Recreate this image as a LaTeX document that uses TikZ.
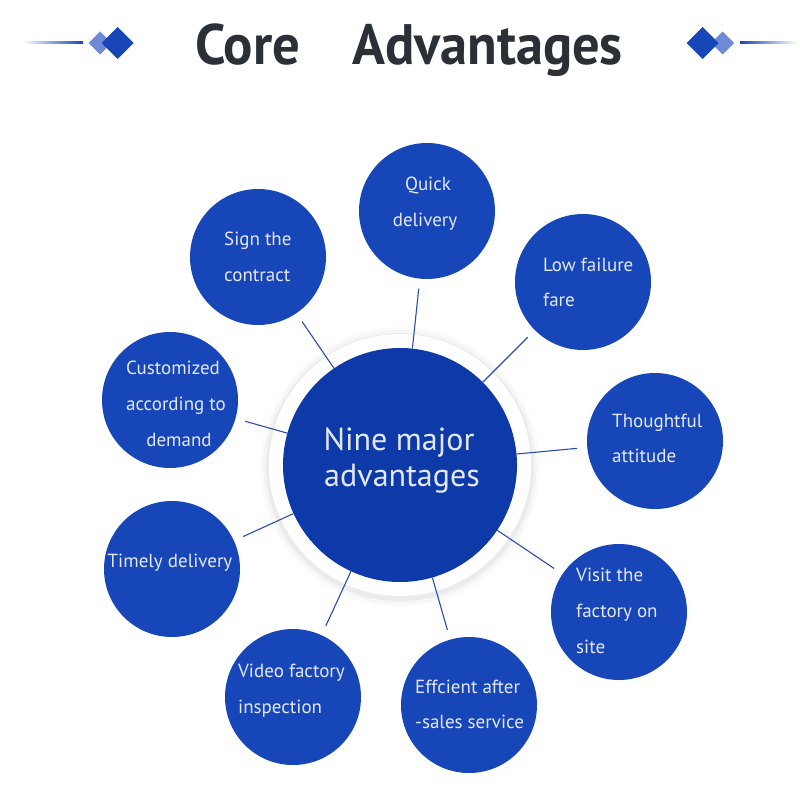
\documentclass[tikz,border=0pt]{standalone}
\usepackage{fontspec}
\setmainfont{PT Sans}
\begin{document}
\begin{tikzpicture}[x=1pt,y=-1pt]
\definecolor{coreblue}{HTML}{0D3AA8}
\definecolor{smallblue}{HTML}{1746B8}
\definecolor{linkblue}{HTML}{2A4DAE}
\definecolor{lightdia}{HTML}{6E8AD6}
\definecolor{textlight}{HTML}{E3E8F6}
\definecolor{titlegray}{HTML}{2B2F36}
\tikzset{
  adv/.style={circle, fill=smallblue, minimum size=136pt, inner sep=0pt},
  advtext/.style={text=textlight, font=\fontsize{19}{23}\selectfont, inner sep=0pt},
  coretxt/.style={text=textlight, font=\fontsize{32}{36}\selectfont, inner sep=0pt, anchor=base},
  link/.style={draw=linkblue, line width=1.1pt, shorten <=10pt},
  titletxt/.style={font=\fontsize{57}{60}\selectfont\bfseries, inner sep=0pt, anchor=base west},
}
\useasboundingbox[fill=white] (0,0) rectangle (800,800);
% header
\shade[left color=white, right color=smallblue] (22,42) rectangle (83,44);
\fill[lightdia] (100,31.5) -- (111.5,43) -- (100,54.5) -- (88.5,43) -- cycle;
\fill[smallblue] (117.5,27) -- (133.5,43) -- (117.5,59) -- (101.5,43) -- cycle;
\fill[lightdia] (722.5,31.5) -- (734,43) -- (722.5,54.5) -- (711,43) -- cycle;
\fill[smallblue] (702.5,27) -- (718.5,43) -- (702.5,59) -- (686.5,43) -- cycle;
\shade[left color=smallblue, right color=white] (740,42) rectangle (797,44);
\node[titletxt, text=titlegray] (title1) at (195,65) {\scalebox{0.96}[1]{Core}};
\node[titletxt, text=titlegray] (title2) at (352,65) {\scalebox{0.955}[1]{Advantages}};
% core circle
\foreach \r/\o in {140/0.015,137/0.025,134/0.04}
  \fill[black, opacity=\o] (400,467) circle (\r pt);
\fill[white] (400,465) circle (131pt);
\node[circle, fill=coreblue, minimum size=234pt, inner sep=0pt] (core) at (400,465) {};
\node[coretxt] (core1) at (399,450) {Nine major};
\node[coretxt] (core2) at (402,486) {advantages};
% small circles
\node[adv] (sign) at (258,257) {};
\node[adv] (quick) at (427,211) {};
\node[adv] (low) at (583,282) {};
\node[adv] (thought) at (655,441) {};
\node[adv] (custom) at (170,400) {};
\node[adv] (timely) at (172,569) {};
\node[adv] (visit) at (619,612) {};
\node[adv] (video) at (293,697) {};
\node[adv] (effic) at (469,705) {};
% links
\foreach \n in {sign,quick,low,thought,custom,timely,visit,video,effic}
  \draw[link] (\n) -- (core);
% texts
\node[advtext, anchor=base west] (sign1) at (224,245) {Sign the};
\node[advtext, anchor=base west] (sign2) at (224,281) {contract};
\node[advtext, anchor=base] (quick1) at (428,190) {Quick};
\node[advtext, anchor=base] (quick2) at (425,226) {delivery};
\node[advtext, anchor=base west] (low1) at (543,271) {Low failure};
\node[advtext, anchor=base west] (low2) at (543,306) {fare};
\node[advtext, anchor=base west] (thought1) at (612,427) {Thoughtful};
\node[advtext, anchor=base west] (thought2) at (612,462) {attitude};
\node[advtext, anchor=base] (custom1) at (173,374) {Customized};
\node[advtext, anchor=base] (custom2) at (176,410) {according to};
\node[advtext, anchor=base] (custom3) at (179,446) {demand};
\node[advtext, anchor=base] (timely1) at (170,567) {Timely delivery};
\node[advtext, anchor=base west] (visit1) at (576,581) {Visit the};
\node[advtext, anchor=base west] (visit2) at (576,617) {factory on};
\node[advtext, anchor=base west] (visit3) at (576,653) {site};
\node[advtext, anchor=base west] (video1) at (238,677) {Video factory};
\node[advtext, anchor=base west] (video2) at (238,713) {inspection};
\node[advtext, anchor=base west] (effic1) at (415,693) {Effcient after};
\node[advtext, anchor=base west] (effic2) at (415,728) {-sales service};
\end{tikzpicture}
\end{document}
